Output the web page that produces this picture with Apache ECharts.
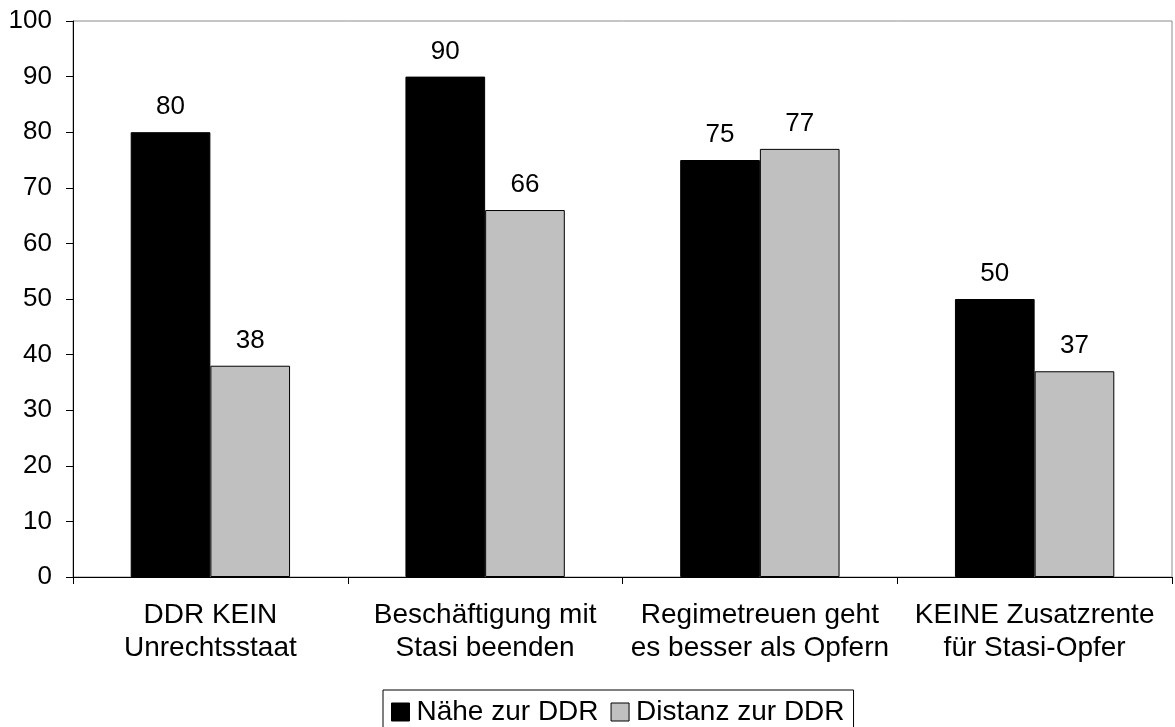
<!DOCTYPE html>
<html>
<head>
<meta charset="utf-8">
<script src="https://cdn.jsdelivr.net/npm/echarts@6/dist/echarts.min.js"></script>
<style>
html,body{margin:0;padding:0;background:#fff;}
#chart{width:1175px;height:727px;}
</style>
</head>
<body>
<div id="chart"></div>
<script>
var categories = ['DDR KEIN\nUnrechtsstaat', 'Beschäftigung mit\nStasi beenden', 'Regimetreuen geht\nes besser als Opfern', 'KEINE Zusatzrente\nfür Stasi-Opfer'];
var naehe = [80, 90, 75, 50];
var distanz = [38, 66, 77, 37];
var yTicks = [0, 100, 10];

var chart = echarts.init(document.getElementById('chart'));
var font = 'Liberation Sans, Arial, sans-serif';

var labelStyle = {
    show: true,
    position: 'top',
    distance: 12,
    color: '#000',
    fontSize: 26,
    fontFamily: font
};

chart.setOption({
    backgroundColor: '#fff',
    animation: false,
    grid: {
        left: 73, right: 3, top: 21, bottom: 150,
        show: true,
        borderColor: '#8c8c8c',
        borderWidth: 1
    },
    legend: {
        top: 690,
        left: 383,
        itemWidth: 18,
        itemHeight: 18,
        itemGap: 12,
        padding: [8, 9, 8, 8],
        borderColor: '#000',
        borderWidth: 1,
        textStyle: {fontSize: 28, fontFamily: font, color: '#000', padding: [0, 0, 0, 2]},
        data: [
            {name: 'Nähe zur DDR', icon: 'rect', itemStyle: {borderColor: '#000', borderWidth: 1}},
            {name: 'Distanz zur DDR', icon: 'rect', itemStyle: {borderColor: '#000', borderWidth: 1}}
        ]
    },
    xAxis: {
        type: 'category',
        data: categories,
        axisLine: {lineStyle: {color: '#000'}},
        axisTick: {show: true, inside: false, length: 7, lineStyle: {color: '#000'}},
        axisLabel: {interval: 0, fontSize: 28, fontFamily: font, color: '#000', margin: 22, lineHeight: 33}
    },
    yAxis: {
        type: 'value',
        min: yTicks[0],
        max: yTicks[1],
        interval: yTicks[2],
        axisLine: {show: true, lineStyle: {color: '#000'}},
        axisTick: {show: true, length: 7, lineStyle: {color: '#000'}},
        splitLine: {show: false},
        axisLabel: {fontSize: 26, fontFamily: font, color: '#000', margin: 21}
    },
    series: [
        {
            name: 'Nähe zur DDR',
            type: 'bar',
            data: naehe,
            barGap: '0%',
            barCategoryGap: '42%',
            itemStyle: {color: '#000', borderColor: '#000', borderWidth: 1},
            label: labelStyle
        },
        {
            name: 'Distanz zur DDR',
            type: 'bar',
            data: distanz,
            itemStyle: {color: '#c0c0c0', borderColor: '#000', borderWidth: 1},
            label: labelStyle
        }
    ]
});
</script>
</body>
</html>
